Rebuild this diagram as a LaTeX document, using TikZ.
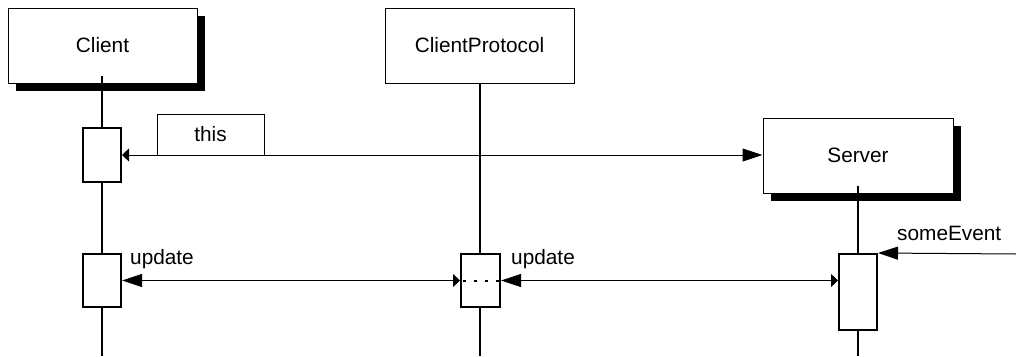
\documentclass[tikz,border=0pt]{standalone}
\usepackage{fontspec}
\setmainfont{Liberation Sans}
\usetikzlibrary{arrows.meta,shadows}

\tikzset{
  objbox/.style={draw=black, line width=1pt, fill=white, minimum width=189pt,
    minimum height=75pt, inner sep=0pt},
  shadowed/.style={drop shadow={shadow xshift=8pt, shadow yshift=-8pt,
    fill=black, opacity=1}},
  actbox/.style={draw=black, line width=2pt, fill=white, minimum width=38pt,
    inner sep=0pt},
  lifeline/.style={line width=2pt},
  msg/.style={line width=1pt},
  bighead/.tip={Triangle[length=20pt,width=13pt]},
  smallhead/.tip={Triangle[length=7pt,width=13pt]},
  lbl/.style={inner sep=0pt, anchor=west},
}

\begin{document}
\begin{tikzpicture}[x=1pt,y=-1pt, font=\fontsize{20.8}{25}\selectfont]
  \useasboundingbox (0,0) rectangle (1016,356);

  % object heads
  \node[objbox, shadowed] (client) at (102.5,45.5) {Client};
  \node[objbox] (proto) at (479.5,45.5) {ClientProtocol};
  \node[objbox, shadowed, minimum width=190pt] (server) at (858,155.5) {Server};

  % bottom ends of the lifelines
  \coordinate (clientEnd) at (102,356);
  \coordinate (protoEnd) at (480,356);
  \coordinate (serverEnd) at (858,356);
  \coordinate (eventSrc) at (1016,254);

  % lifelines
  \draw[lifeline] ([yshift=8pt]client.south -| clientEnd) -- (clientEnd);
  \draw[lifeline] (proto.south -| protoEnd) -- (protoEnd);
  \draw[lifeline] ([yshift=8pt]server.south -| serverEnd) -- (serverEnd);

  % activations
  \node[actbox, minimum height=54pt] (cact1) at (102,155) {};
  \node[actbox, minimum height=53pt] (cact2) at (102,280.5) {};
  \node[actbox, minimum width=39pt, minimum height=53pt] (pact) at (480.5,280.5) {};
  \node[actbox, minimum height=76pt] (sact) at (858,292) {};

  % "this" message
  \draw[msg, smallhead-bighead] (cact1.east) -- (cact1.east -| server.west);
  \node[draw=black, line width=1pt, fill=white, minimum width=107pt,
        minimum height=41pt, inner sep=0pt] (this) at (210.5,134.5) {this};

  % update messages
  \draw[msg, bighead-smallhead] (cact2.east) -- (pact.west);
  \draw[msg, bighead-smallhead] (pact.east) -- (sact.west |- pact.east);
  \draw[line width=2pt, dash pattern=on 3pt off 8pt] ([xshift=3pt]pact.west) -- (pact.east);
  \node[lbl] (upd1) at (130,259) {update};
  \node[lbl] (upd2) at (511,259) {update};

  % incoming event
  \draw[msg, -bighead] (eventSrc) -- (sact.north east);
  \node[lbl] (evt) at (897,233) {someEvent};
\end{tikzpicture}
\end{document}
